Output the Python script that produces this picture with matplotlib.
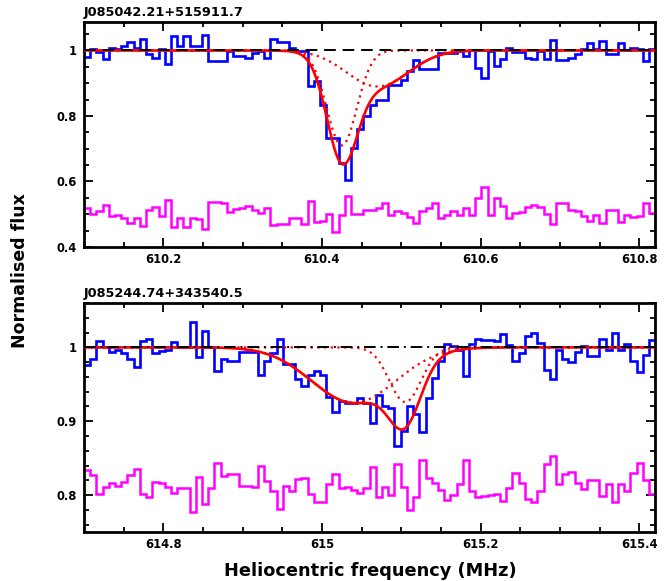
import numpy as np
import matplotlib
matplotlib.use("Agg")
import matplotlib.pyplot as plt
from matplotlib.ticker import MultipleLocator, FormatStrFormatter

plt.rcParams['font.family'] = 'DejaVu Sans'
plt.rcParams['font.weight'] = 'bold'

# Spectres (canaux de largeur constante)
chan_width = 0.00783  # MHz

top_name = "J085042.21+515911.7"
top_start = 610.1
top_flux = [0.981, 1.003, 0.996, 0.973, 1.006, 1.003, 1.013, 1.026, 1.008, 1.036,
            0.988, 0.978, 1.003, 0.960, 1.044, 1.013, 1.044, 1.013, 1.015, 1.048,
            0.967, 0.967, 0.967, 0.998, 0.983, 0.983, 0.978, 0.993, 0.998, 0.978,
            1.034, 1.027, 1.027, 1.008, 0.998, 0.998, 0.891, 0.906, 0.832, 0.733,
            0.733, 0.657, 0.606, 0.703, 0.759, 0.800, 0.835, 0.850, 0.850, 0.896,
            0.896, 0.911, 0.937, 0.971, 0.944, 0.944, 0.944, 0.991, 0.993, 0.993,
            0.998, 0.983, 1.000, 0.947, 0.917, 0.998, 0.952, 0.973, 1.008, 0.996,
            0.996, 0.978, 0.975, 0.998, 0.973, 1.032, 0.971, 0.971, 0.978, 0.988,
            1.003, 1.023, 1.003, 1.028, 0.988, 0.988, 1.023, 1.001, 1.008, 1.003,
            0.969, 1.003]
top_resid = [0.520, 0.501, 0.509, 0.527, 0.494, 0.499, 0.489, 0.474, 0.489, 0.464,
             0.514, 0.523, 0.496, 0.542, 0.460, 0.489, 0.460, 0.489, 0.486, 0.455,
             0.537, 0.537, 0.533, 0.506, 0.517, 0.518, 0.525, 0.514, 0.504, 0.520,
             0.466, 0.471, 0.469, 0.489, 0.489, 0.471, 0.540, 0.477, 0.479, 0.502,
             0.445, 0.499, 0.557, 0.502, 0.502, 0.512, 0.512, 0.520, 0.533, 0.497,
             0.511, 0.504, 0.492, 0.472, 0.509, 0.518, 0.533, 0.489, 0.499, 0.509,
             0.497, 0.518, 0.499, 0.551, 0.584, 0.499, 0.550, 0.525, 0.489, 0.504,
             0.506, 0.523, 0.527, 0.523, 0.502, 0.470, 0.533, 0.533, 0.514, 0.509,
             0.496, 0.479, 0.499, 0.472, 0.514, 0.514, 0.476, 0.499, 0.492, 0.496,
             0.533, 0.504]
# composantes gaussiennes du fit
top_centre = [610.425, 610.47]
top_depth = [0.29, 0.11]
top_sigma = [0.019, 0.039]

bot_name = "J085244.74+343540.5"
bot_start = 614.7
bot_flux = [0.976, 0.984, 1.008, 1.000, 0.994, 0.997, 0.993, 0.984, 0.974, 1.008,
            1.012, 0.993, 0.995, 0.996, 1.007, 1.000, 1.000, 1.034, 0.987, 1.022,
            1.000, 0.968, 0.984, 0.981, 0.981, 0.994, 0.994, 0.994, 0.963, 0.982,
            0.993, 1.012, 0.977, 0.977, 0.957, 0.948, 0.963, 0.968, 0.963, 0.933,
            0.913, 0.928, 0.925, 0.925, 0.931, 0.925, 0.898, 0.936, 0.920, 0.918,
            0.867, 0.887, 0.920, 0.910, 0.885, 0.932, 0.958, 0.982, 1.004, 1.002,
            0.997, 0.961, 1.004, 1.012, 1.010, 1.010, 1.008, 1.018, 1.003, 0.982,
            0.993, 1.015, 1.020, 1.006, 0.969, 0.957, 0.997, 0.984, 0.980, 0.994,
            1.002, 0.988, 0.988, 1.011, 0.997, 1.020, 0.997, 1.005, 0.982, 0.966,
            0.990, 1.010]
bot_resid = [0.834, 0.827, 0.802, 0.811, 0.817, 0.812, 0.818, 0.827, 0.836, 0.801,
             0.798, 0.818, 0.816, 0.811, 0.803, 0.810, 0.809, 0.777, 0.824, 0.788,
             0.810, 0.843, 0.826, 0.828, 0.828, 0.812, 0.812, 0.811, 0.840, 0.819,
             0.806, 0.781, 0.812, 0.806, 0.822, 0.823, 0.802, 0.791, 0.791, 0.815,
             0.829, 0.809, 0.811, 0.807, 0.803, 0.810, 0.838, 0.797, 0.811, 0.800,
             0.842, 0.811, 0.780, 0.798, 0.847, 0.823, 0.817, 0.807, 0.793, 0.800,
             0.815, 0.847, 0.805, 0.797, 0.799, 0.800, 0.802, 0.792, 0.809, 0.830,
             0.817, 0.795, 0.790, 0.805, 0.842, 0.853, 0.815, 0.829, 0.831, 0.817,
             0.808, 0.821, 0.821, 0.799, 0.815, 0.790, 0.815, 0.805, 0.830, 0.844,
             0.820, 0.801]
bot_centre = [615.04, 615.105]
bot_depth = [0.075, 0.074]
bot_sigma = [0.053, 0.02]


def gauss(f, c, d, s):
    return d * np.exp(-0.5 * ((f - c) / s) ** 2)


def draw_panel(ax, start, flux, resid, centres, depths, sigmas, name,
               xlim, ylim, ymaj, ymin, unit_ls):
    edges = start + chan_width * np.arange(len(flux) + 1)
    ax.stairs(flux, edges, baseline=None, color='blue', lw=1.9, zorder=2)
    ax.stairs(resid, edges, baseline=None, color='magenta', lw=1.8, zorder=2)

    f = np.linspace(xlim[0], xlim[1], 2000)
    total = np.ones_like(f)
    for c, d, s in zip(centres, depths, sigmas):
        comp = gauss(f, c, d, s)
        ax.plot(f, 1 - comp, color='red', lw=1.6, ls=(0, (1, 2)), zorder=3)
        total -= comp
    ax.plot(f, total, color='red', lw=1.9, zorder=4)
    ax.axhline(1, color='black', lw=1.4, ls=unit_ls, zorder=5)

    ax.set_xlim(xlim)
    ax.set_ylim(ylim)
    ax.xaxis.set_major_locator(MultipleLocator(0.2))
    ax.xaxis.set_minor_locator(MultipleLocator(0.05))
    ax.yaxis.set_major_locator(MultipleLocator(ymaj))
    ax.yaxis.set_minor_locator(MultipleLocator(ymin))
    ax.xaxis.set_major_formatter(FormatStrFormatter('%g'))
    ax.yaxis.set_major_formatter(FormatStrFormatter('%g'))
    ax.tick_params(which='both', direction='in', top=True, right=True,
                   width=1.3, labelsize=8.3)
    ax.tick_params(which='major', length=6.5)
    ax.tick_params(which='minor', length=3.3)
    ax.tick_params(axis='x', pad=4)
    ax.tick_params(axis='y', pad=5)
    for sp in ax.spines.values():
        sp.set_linewidth(2)
    ax.annotate(name, xy=(0, 1), xycoords='axes fraction', xytext=(0, 2),
                textcoords='offset points', ha='left', va='bottom',
                fontsize=9.3, fontweight='bold')


fig = plt.figure(figsize=(6.64, 5.81), dpi=100)
ax1 = fig.add_axes([0.1265, 0.5749, 0.860, 0.3873])
ax2 = fig.add_axes([0.1265, 0.0843, 0.860, 0.3941])

draw_panel(ax1, top_start, top_flux, top_resid, top_centre, top_depth, top_sigma,
           top_name, (610.1, 610.82), (0.4, 1.087), 0.2, 0.05, (0, (6, 3.5)))
draw_panel(ax2, bot_start, bot_flux, bot_resid, bot_centre, bot_depth, bot_sigma,
           bot_name, (614.7, 615.42), (0.75, 1.06), 0.1, 0.02, (0, (6, 2.5, 1, 2.5)))

fig.text(0.030, 0.535, "Normalised flux", rotation=90, ha='center', va='center',
         fontsize=12.5, fontweight='bold')
fig.text(0.557, 0.017, "Heliocentric frequency (MHz)", ha='center', va='center',
         fontsize=12.8, fontweight='bold')

fig.savefig("out.png", dpi=100)
